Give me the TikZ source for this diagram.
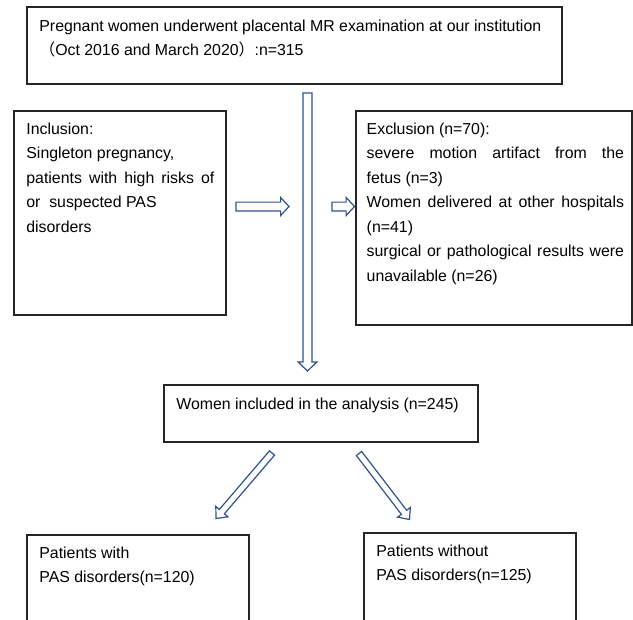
\documentclass[tikz,border=0pt]{standalone}
\usepackage{fontspec}
\setmainfont{Liberation Sans}
\newfontfamily\cjk{Noto Sans CJK SC}
\usepackage{xcolor}
\usepackage{tikz}
\usetikzlibrary{calc}
\usetikzlibrary{fit}
\setlength{\parindent}{0pt}
\definecolor{arrowblue}{HTML}{2F528F}

\begin{document}
\begin{tikzpicture}[x=0.75pt, y=-0.75pt,
        box/.style={draw=black!85, line width=0.8pt, inner sep=0pt},
        boxtext/.style={anchor=north west, align=left, inner xsep=9.5pt, inner ysep=9pt,
            font=\fontsize{11.9}{18.4}\selectfont},
        blockarrow/.style n args={3}{draw=arrowblue, fill=white, line width=0.9pt, line join=miter,
            to path={($(\tikztostart)!#1!90:(\tikztotarget)$)
                -- ($(\tikztotarget)!#3!(\tikztostart)!#1!-90:(\tikztostart)$)
                -- ($(\tikztotarget)!#3!(\tikztostart)!#2!-90:(\tikztostart)$)
                -- (\tikztotarget)
                -- ($(\tikztotarget)!#3!(\tikztostart)!#2!90:(\tikztostart)$)
                -- ($(\tikztotarget)!#3!(\tikztostart)!#1!90:(\tikztostart)$)
                -- ($(\tikztostart)!#1!-90:(\tikztotarget)$) -- cycle}}
    ]
    \useasboundingbox (0,0) rectangle (633,619);

    \node[box, fit={(27,7) (562,84)},
        label={[boxtext, inner ysep=9.75pt]north west:{Pregnant women underwent placental MR examination at our institution\\{\cjk （}Oct 2016 and March 2020{\cjk ）}:n=315}}] (screened) {};

    \node[box, fit={(14,111) (226,315)},
        label={[boxtext, align=justify, text width=141pt]north west:{Inclusion:\\Singleton pregnancy,\\patients with high risks of\linebreak or\ \ suspected PAS\\disorders}}] (inclusion) {};

    \node[box, fit={(356,111) (632,325)},
        label={[boxtext, inner xsep=8.25pt, align=justify, text width=193pt]north west:{Exclusion (n=70):\\severe motion artifact from the\linebreak fetus (n=3)\\Women delivered at other hospitals\linebreak (n=41)\\surgical or pathological results were\linebreak unavailable (n=26)}}] (exclusion) {};

    \node[box, fit={(164,385) (478,442)},
        label={[boxtext, inner ysep=9.75pt]north west:{Women included in the analysis (n=245)}}] (analysed) {};

    \node[box, fit={(27,535) (249,630)},
        label={[boxtext]north west:{Patients with\\PAS disorders(n=120)}}] (withpas) {};
    \node[box, fit={(364,533) (576,630)},
        label={[boxtext]north west:{Patients without\\PAS disorders(n=125)}}] (withoutpas) {};

    \coordinate (main_tail) at (307.5,93);
    \coordinate (main_tip) at (307.5,371);
    \coordinate (in_tail) at (236,206.5);
    \coordinate (in_tip) at (289,206.5);
    \coordinate (ex_tail) at (332,206.5);
    \coordinate (ex_tip) at (354.5,206.5);
    \coordinate (left_tail) at (272,453);
    \coordinate (left_tip) at (216,518.5);
    \coordinate (right_tail) at (359,453.5);
    \coordinate (right_tip) at (409.5,519.5);

    \draw[blockarrow={3.4pt}{7.1pt}{6.8pt}] (main_tail) to (main_tip);
    \draw[blockarrow={3.3pt}{6.8pt}{6.3pt}] (in_tail) to (in_tip);
    \draw[blockarrow={3.3pt}{6.8pt}{6.3pt}] (ex_tail) to (ex_tip);
    \draw[blockarrow={2.5pt}{6pt}{6.8pt}] (left_tail) to (left_tip);
    \draw[blockarrow={2.5pt}{6pt}{6.8pt}] (right_tail) to (right_tip);
\end{tikzpicture}
\end{document}
